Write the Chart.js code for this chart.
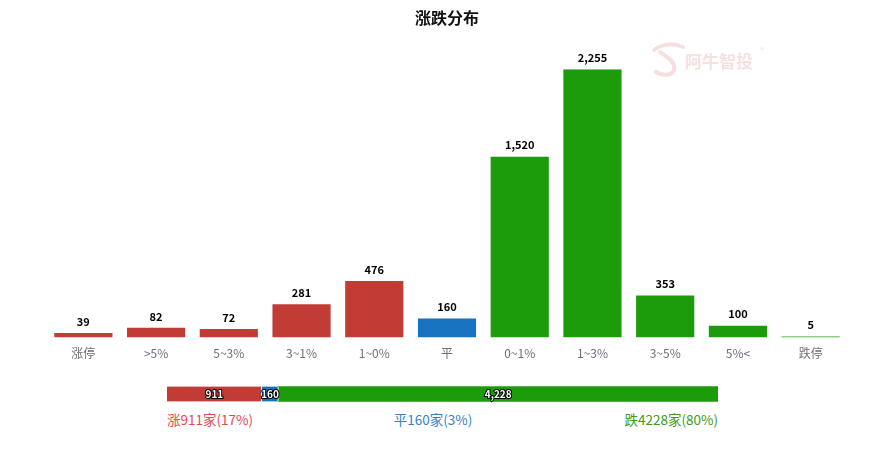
<!DOCTYPE html>
<html>
<head>
<meta charset="utf-8">
<script src="https://cdn.jsdelivr.net/npm/chart.js@4.4.0/dist/chart.umd.min.js"></script>
<style>
    body { margin: 0; background: #fff; font-family: "Noto Sans CJK SC", "Noto Sans", sans-serif; }
    #wrap { position: relative; width: 880px; height: 450px; }
    #mainBox { position: absolute; left: 0; top: 0; width: 880px; height: 370px; }
    #sumBox { position: absolute; left: 0; top: 380px; width: 880px; height: 28px; }
    .sum { position: absolute; top: 409px; font-size: 13.5px; line-height: 20px; white-space: nowrap; }
</style>
</head>
<body>
<div id="wrap">
    <div id="mainBox"><canvas id="mainChart" width="880" height="370"></canvas></div>
    <div id="sumBox"><canvas id="sumChart" width="880" height="28"></canvas></div>
    <div class="sum" id="sumUp" style="left:167px;color:#e24a52;"></div>
    <div class="sum" id="sumFlat" style="left:433px;transform:translateX(-50%);color:#3a7fc6;"></div>
    <div class="sum" id="sumDown" style="right:162px;color:#3f9a1e;"></div>
</div>
<script>
// ================== DATOS ==================
const categories = ['涨停', '>5%', '5~3%', '3~1%', '1~0%', '平', '0~1%', '1~3%', '3~5%', '5%<', '跌停'];
const counts = [39, 82, 72, 281, 476, 160, 1520, 2255, 353, 100, 5];
const groups = ['up', 'up', 'up', 'up', 'up', 'flat', 'down', 'down', 'down', 'down', 'down'];

const summaryLabels = ['涨', '平', '跌'];
const summaryValues = [911, 160, 4228];

const COLORS = { up: '#c13c34', flat: '#1772bf', down: '#1c9b0b' };
const FONT = '"Noto Sans CJK SC", "Noto Sans", sans-serif';

const fmt = v => v.toLocaleString('en-US');

// etiquetas encima de las barras
const topLabels = {
    id: 'topLabels',
    afterDatasetsDraw(chart) {
        const ctx = chart.ctx;
        const meta = chart.getDatasetMeta(0);
        ctx.save();
        ctx.font = 'bold 11px ' + FONT;
        ctx.fillStyle = '#000';
        ctx.textAlign = 'center';
        ctx.textBaseline = 'bottom';
        meta.data.forEach((bar, i) => {
            ctx.fillText(fmt(counts[i]), bar.x, bar.y - 6);
        });
        ctx.restore();
    }
};

// marca de agua
const watermark = {
    id: 'watermark',
    beforeDatasetsDraw(chart) {
        const ctx = chart.ctx;
        ctx.save();
        ctx.strokeStyle = 'rgba(225,110,110,0.22)';
        ctx.fillStyle = 'rgba(225,110,110,0.22)';
        ctx.lineWidth = 4;
        ctx.lineCap = 'round';
        ctx.beginPath();
        ctx.moveTo(654, 50);
        ctx.bezierCurveTo(664, 42, 676, 44, 683, 47);
        ctx.moveTo(660, 52);
        ctx.bezierCurveTo(668, 58, 676, 62, 674, 70);
        ctx.bezierCurveTo(672, 76, 662, 76, 656, 72);
        ctx.stroke();
        ctx.font = 'bold 17px ' + FONT;
        ctx.textBaseline = 'middle';
        ctx.fillText('阿牛智投', 685, 62);
        ctx.font = '8px ' + FONT;
        ctx.fillText('®', 760, 50);
        ctx.restore();
    }
};

function initMainChart() {
    const ctx = document.getElementById('mainChart').getContext('2d');
    return new Chart(ctx, {
        type: 'bar',
        data: {
            labels: categories,
            datasets: [{
                data: counts,
                backgroundColor: groups.map(g => COLORS[g]),
                borderWidth: 0,
                minBarLength: 1,
                barPercentage: 0.8,
                categoryPercentage: 1
            }]
        },
        options: {
            responsive: false,
            animation: false,
            layout: { padding: { left: 47, right: 33, top: 0, bottom: 0 } },
            plugins: {
                legend: { display: false },
                tooltip: { enabled: false },
                title: {
                    display: true,
                    text: '涨跌分布',
                    color: '#111',
                    font: { size: 16, weight: 'bold', family: FONT },
                    padding: { top: 8, bottom: 42 }
                }
            },
            scales: {
                x: {
                    grid: { display: false, drawTicks: false },
                    border: { display: false },
                    ticks: { color: '#6e7079', padding: 9, font: { size: 12, family: FONT } }
                },
                y: {
                    display: false,
                    min: 0,
                    max: Math.max(...counts)
                }
            }
        },
        plugins: [watermark, topLabels]
    });
}

// etiquetas dentro de la barra resumen
const segLabels = {
    id: 'segLabels',
    afterDatasetsDraw(chart) {
        const ctx = chart.ctx;
        ctx.save();
        ctx.font = 'bold 10px ' + FONT;
        ctx.textAlign = 'center';
        ctx.textBaseline = 'middle';
        ctx.lineWidth = 2;
        ctx.strokeStyle = '#000';
        ctx.fillStyle = '#fff';
        chart.data.datasets.forEach((ds, i) => {
            const bar = chart.getDatasetMeta(i).data[0];
            const cx = (bar.x + bar.base) / 2;
            const txt = fmt(summaryValues[i]);
            ctx.strokeText(txt, cx, bar.y);
            ctx.fillText(txt, cx, bar.y);
        });
        ctx.restore();
    }
};

function initSummaryChart() {
    const total = summaryValues.reduce((a, b) => a + b, 0);
    const segColors = [COLORS.up, COLORS.flat, COLORS.down];
    const ctx = document.getElementById('sumChart').getContext('2d');
    return new Chart(ctx, {
        type: 'bar',
        data: {
            labels: [''],
            datasets: summaryValues.map((v, i) => ({
                data: [v],
                backgroundColor: segColors[i],
                borderColor: '#fff',
                borderWidth: i < 2 ? { left: 0, right: 1, top: 0, bottom: 0 } : 0,
                borderSkipped: false,
                barThickness: 15
            }))
        },
        options: {
            indexAxis: 'y',
            responsive: false,
            animation: false,
            layout: { padding: { left: 167, right: 162, top: 0, bottom: 0 } },
            plugins: { legend: { display: false }, tooltip: { enabled: false } },
            scales: {
                x: { display: false, stacked: true, min: 0, max: total },
                y: { display: false, stacked: true }
            }
        },
        plugins: [segLabels]
    });
}

function fillSummaryText() {
    const total = summaryValues.reduce((a, b) => a + b, 0);
    const ids = ['sumUp', 'sumFlat', 'sumDown'];
    summaryValues.forEach((v, i) => {
        const pct = Math.round(v / total * 100);
        document.getElementById(ids[i]).textContent = `${summaryLabels[i]}${v}家(${pct}%)`;
    });
}

initMainChart();
initSummaryChart();
fillSummaryText();
</script>
</body>
</html>
